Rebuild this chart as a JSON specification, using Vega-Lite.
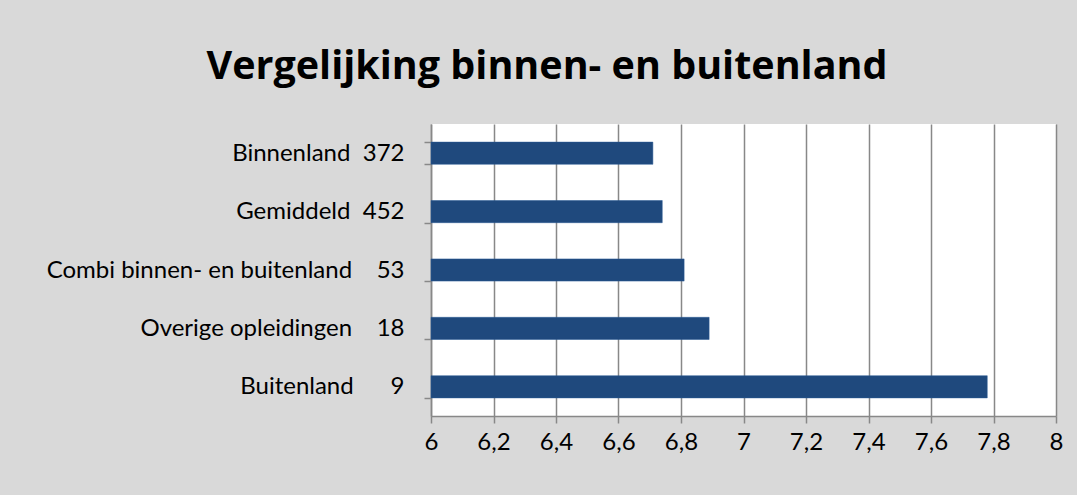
{
  "$schema": "https://vega.github.io/schema/vega-lite/v6.json",
  "width": 625,
  "height": 292,
  "padding": {"left": 31, "top": 46, "right": 21, "bottom": 0},
  "background": "#d9d9d9",
  "title": {
    "text": "Vergelijking binnen- en buitenland",
    "font": "Open Sans",
    "fontSize": 39.5,
    "fontWeight": "bold",
    "color": "#000000",
    "anchor": "middle",
    "frame": "bounds",
    "offset": 25
  },
  "data": {
    "values": [
      {"categorie": "Binnenland\u00a0\u00a0372", "score": 6.71},
      {"categorie": "Gemiddeld\u00a0\u00a0452", "score": 6.74},
      {"categorie": "Combi binnen- en buitenland\u00a0\u00a0\u00a0\u00a053", "score": 6.81},
      {"categorie": "Overige opleidingen\u00a0\u00a0\u00a0\u00a018", "score": 6.89},
      {"categorie": "Buitenland\u00a0\u00a0\u00a0\u00a0\u00a0\u00a09", "score": 7.78}
    ]
  },
  "mark": {"type": "bar", "color": "#1f497d", "stroke": "#2a5a94", "strokeWidth": 0.5},
  "encoding": {
    "y": {
      "field": "categorie",
      "type": "nominal",
      "sort": null,
      "title": null,
      "scale": {"paddingInner": 0.62, "paddingOuter": 0.31},
      "axis": {
        "tickBand": "extent",
        "domainColor": "#888888",
        "domainWidth": 1.5,
        "tickColor": "#888888",
        "tickWidth": 1.5,
        "tickSize": 7,
        "labelPadding": 20,
        "labelFont": "Lato",
        "labelFontSize": 24,
        "labelColor": "#000000",
        "labelLimit": 500,
        "minExtent": 400,
        "maxExtent": 400,
        "grid": false
      }
    },
    "x": {
      "field": "score",
      "type": "quantitative",
      "title": null,
      "scale": {"domain": [6, 8], "nice": false, "zero": false},
      "axis": {
        "values": [6, 6.2, 6.4, 6.6, 6.8, 7, 7.2, 7.4, 7.6, 7.8, 8],
        "labelExpr": "replace(format(datum.value, '~g'), '.', ',')",
        "grid": true,
        "gridColor": "#888888",
        "gridWidth": 1.5,
        "domainColor": "#888888",
        "domainWidth": 1.5,
        "tickColor": "#888888",
        "tickWidth": 1.5,
        "tickSize": 7,
        "labelPadding": 7,
        "labelFont": "Lato",
        "labelFontSize": 24,
        "labelColor": "#000000",
        "labelFlush": false,
        "minExtent": 79,
        "maxExtent": 79
      }
    },
    "x2": {"datum": 6}
  },
  "config": {
    "view": {"fill": "#ffffff", "stroke": null}
  }
}
